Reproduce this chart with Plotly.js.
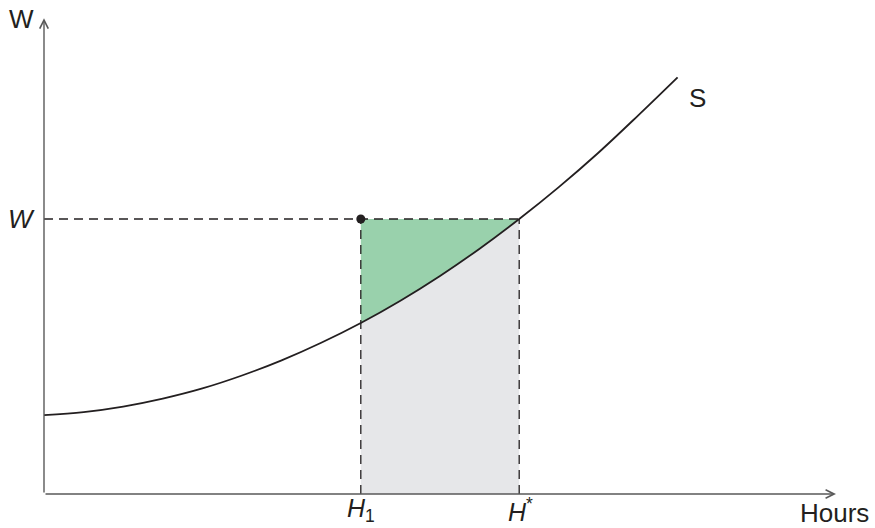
<!DOCTYPE html>
<html>
<head>
<meta charset="utf-8">
<script src="https://cdn.plot.ly/plotly-3.0.1.min.js"></script>
<style>html,body{margin:0;padding:0;background:#fff;}#chart{width:875px;height:528px;}</style>
</head>
<body>
<div id="chart"></div>
<script>
// Supply curve S (hours on x, wage on y)
const hours = [0, 0.5, 1, 1.5, 2, 2.5, 3, 3.5, 4, 4.5, 5, 5.5, 6, 6.5, 7, 7.5, 8];
const wage  = [2.87, 2.98, 3.18, 3.47, 3.84, 4.31, 4.86, 5.50, 6.22, 7.03, 7.93, 8.92, 10.0, 11.16, 12.41, 13.76, 15.15];
const H1 = 4;        // hours at point H1
const Hstar = 6;     // hours at H*
const Wlevel = 10;   // wage W
const xMax = 10;     // end of hours axis
const yMax = 17.3;   // end of wage axis

const font = {family: '"Liberation Sans", Arial, sans-serif', size: 26, color: '#231f20'};
const tickFont = {family: '"Liberation Sans", Arial, sans-serif', size: 25, color: '#231f20'};

// segment of curve between H1 and H*
const segX = [], segY = [];
hours.forEach((h, i) => { if (h >= H1 && h <= Hstar) { segX.push(h); segY.push(wage[i]); } });

const green = {
  x: [H1].concat(segX).concat([H1]),
  y: [Wlevel].concat(segY).concat([Wlevel]),
  fill: 'toself', fillcolor: 'rgb(153,209,172)', mode: 'lines', line: {width: 0},
  hoverinfo: 'skip', showlegend: false
};
const gray = {
  x: [H1].concat(segX).concat([Hstar, H1]),
  y: [0].concat(segY).concat([0, 0]),
  fill: 'toself', fillcolor: 'rgb(230,231,233)', mode: 'lines', line: {width: 0},
  hoverinfo: 'skip', showlegend: false
};
const dash = {color: '#231f20', width: 1.3, dash: '9px,6px'};
const hLine = {x: [0, Hstar], y: [Wlevel, Wlevel], mode: 'lines', line: dash, showlegend: false, hoverinfo: 'skip'};
const v1 = {x: [H1, H1], y: [0, Wlevel], mode: 'lines', line: dash, showlegend: false, hoverinfo: 'skip'};
const v2 = {x: [Hstar, Hstar], y: [0, Wlevel], mode: 'lines', line: dash, showlegend: false, hoverinfo: 'skip'};
const curve = {x: hours, y: wage, mode: 'lines', line: {color: '#231f20', width: 1.8, shape: 'spline'}, showlegend: false, hoverinfo: 'skip'};
const dot = {x: [H1], y: [Wlevel], mode: 'markers', marker: {color: '#231f20', size: 9}, showlegend: false, hoverinfo: 'skip'};

const axisColor = '#5a5a5a';
const layout = {
  width: 875, height: 528,
  margin: {l: 44, r: 39, t: 14, b: 34},
  paper_bgcolor: '#fff', plot_bgcolor: '#fff',
  xaxis: {range: [0, xMax], showgrid: false, zeroline: false, showticklabels: false, showline: false, ticks: ''},
  yaxis: {range: [0, 480 / 27.5], showgrid: false, zeroline: false, showticklabels: false, showline: false, ticks: ''},
  annotations: [
    {x: xMax, y: 0, ax: 0, ay: 0, axref: 'x', ayref: 'y', xref: 'x', yref: 'y', text: '', showarrow: true,
     arrowhead: 5, arrowsize: 1.2, arrowwidth: 1.4, arrowcolor: axisColor},
    {x: 0, y: yMax, ax: 0, ay: 0, axref: 'x', ayref: 'y', xref: 'x', yref: 'y', text: '', showarrow: true,
     arrowhead: 5, arrowsize: 1.2, arrowwidth: 1.4, arrowcolor: axisColor},
    {x: -0.0278, y: 0.9896, xref: 'paper', yref: 'paper', text: 'W', showarrow: false, font: font, xanchor: 'center', yanchor: 'middle'},
    {x: -0.0284, y: Wlevel, xref: 'paper', yref: 'y', text: '<i>W</i>', showarrow: false, font: font, xanchor: 'center', yanchor: 'middle'},
    {x: H1, y: -0.033, xref: 'x', yref: 'paper', text: '<i>H</i><sub>1</sub>', showarrow: false, font: tickFont, xanchor: 'center', yanchor: 'middle'},
    {x: Hstar + 0.02, y: -0.033, xref: 'x', yref: 'paper', text: '<i>H</i><sup>*</sup>', showarrow: false, font: tickFont, xanchor: 'center', yanchor: 'middle'},
    {x: 0.9987, y: -0.04, xref: 'paper', yref: 'paper', text: 'Hours', showarrow: false, font: font, xanchor: 'center', yanchor: 'middle'},
    {x: 8.245, y: 14.4, xref: 'x', yref: 'y', text: 'S', showarrow: false, font: font, xanchor: 'center', yanchor: 'middle'}
  ]
};

Plotly.newPlot('chart', [gray, green, hLine, v1, v2, curve, dot], layout, {staticPlot: true, displayModeBar: false});
</script>
</body>
</html>
